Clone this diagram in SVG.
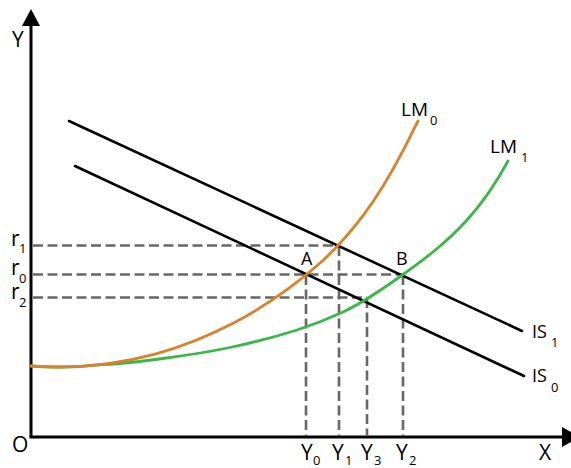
<svg xmlns="http://www.w3.org/2000/svg" width="571" height="468" viewBox="0 0 571 468">
<style>
.axis{stroke:#000;stroke-width:3;fill:none}
.is{stroke:#000;stroke-width:2.6;fill:none;stroke-linecap:round}
.dash{stroke:#676767;stroke-width:2.6;fill:none;stroke-dasharray:10 4.5}
.lm0{stroke:#D8832B;stroke-width:2.8;fill:none;stroke-linecap:round}
.lm1{stroke:#3CB54A;stroke-width:2.8;fill:none;stroke-linecap:round}
text{font-family:"Open Sans","Liberation Sans",sans-serif;fill:#000}
.big{font-size:21px}
.mid{font-size:18px}
.lm{font-size:19px}
.r{font-size:21px}
.sub{font-size:13px}
</style>
<g id="axes">
<line class="axis" x1="31" y1="437" x2="31" y2="22"/>
<polygon points="31,9 22,26 40,26" fill="#000"/>
<line class="axis" x1="29.5" y1="437" x2="565" y2="437"/>
<polygon points="562,427 580,437 562,447" fill="#000"/>
<text class="big" x="12" y="47">Y</text>
<text class="big" x="539" y="460">X</text>
<text class="big" x="12" y="452">O</text>
</g>
<g id="connectors">
<line class="dash" x1="33" y1="245.5" x2="340" y2="245.5"/>
<line class="dash" x1="33" y1="274.5" x2="403" y2="274.5"/>
<line class="dash" x1="33" y1="297.5" x2="367" y2="297.5"/>
<line class="dash" x1="306" y1="275" x2="306" y2="436"/>
<line class="dash" x1="339" y1="246" x2="339" y2="436"/>
<line class="dash" x1="367" y1="298" x2="367" y2="436"/>
<line class="dash" x1="403" y1="275" x2="403" y2="436"/>
</g>
<g id="IS1">
<line class="is" x1="69" y1="121" x2="522" y2="331"/>
<text class="mid" x="532" y="338">IS</text>
<text class="sub" x="551" y="347">1</text>
</g>
<g id="IS0">
<line class="is" x1="75" y1="166" x2="524" y2="376"/>
<text class="mid" x="532" y="382">IS</text>
<text class="sub" x="551" y="392">0</text>
</g>
<g id="LM1">
<path class="lm1" d="M31,366 C40.67,366.58 50.33,367 60,367 C77.67,367 95.33,365.41 113,364 C129.67,362.67 146.33,360.75 163,358.5 C185.33,355.49 207.67,352.19 230,347.5 C252.33,342.81 274.67,337.15 297,330 C312.33,325.09 327.67,319.21 343,312 C363,302.6 383,288.9 403,274.5 C424.33,259.14 445.67,243.47 467,220 C480.67,204.97 494.33,186.28 508,161"/>
<text class="lm" x="490" y="153">LM</text>
<text class="sub" x="521" y="162">1</text>
</g>
<g id="LM0">
<path class="lm0" d="M31,366 C40.67,366.58 50.33,367 60,367 C91.67,367 123.33,362.65 155,354.1 C181,347.08 207,336.82 233,323.3 C251.33,313.77 269.67,302.28 288,288.9 C299.33,280.63 310.67,271.4 322,261.2 C335.67,248.9 349.33,233.74 363,215.7 C376.33,198.1 389.67,176.43 403,150.7 C408,141.05 413,130.7 418,121"/>
<text class="lm" x="401" y="116">LM</text>
<text class="sub" x="430" y="125">0</text>
</g>
<g id="A"><text class="mid" x="301" y="265">A</text></g>
<g id="B"><text class="mid" x="396" y="265">B</text></g>
<g id="r-labels">
<text class="r" x="11" y="246">r</text><text class="sub" x="19" y="253">1</text>
<text class="r" x="11" y="275">r</text><text class="sub" x="19" y="283">0</text>
<text class="r" x="11" y="299">r</text><text class="sub" x="19" y="307">2</text>
</g>
<g id="Y-labels">
<text class="big" x="301" y="460">Y</text><text class="sub" x="313" y="465">0</text>
<text class="big" x="332" y="460">Y</text><text class="sub" x="345" y="465">1</text>
<text class="big" x="361" y="460">Y</text><text class="sub" x="374" y="465">3</text>
<text class="big" x="396" y="460">Y</text><text class="sub" x="409" y="465">2</text>
</g>
</svg>
